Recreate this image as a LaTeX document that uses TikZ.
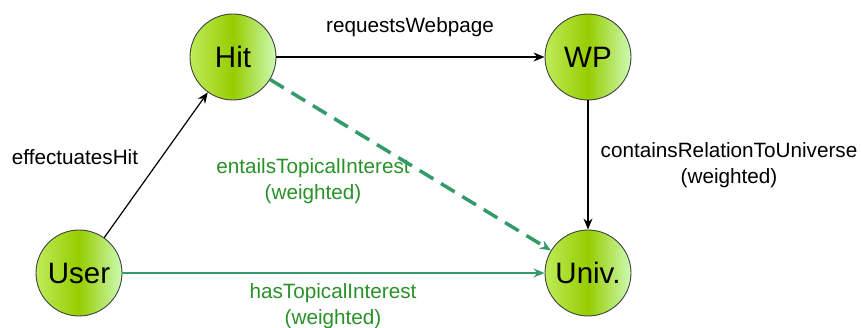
\documentclass[tikz,border=0pt]{standalone}
\usepackage{fontspec}
\setmainfont{Liberation Sans}
\usetikzlibrary{arrows.meta}

\definecolor{nodeleft}{RGB}{190,236,90}
\definecolor{nodemid}{RGB}{150,205,0}
\definecolor{noderight}{RGB}{205,250,180}
\definecolor{linkgreen}{RGB}{50,155,105}
\definecolor{textgreen}{RGB}{40,145,40}

\tikzstyle{entity}   = [circle, draw=black!75, line width=0.9pt, minimum size=86pt
                       , inner sep=0pt, left color=nodeleft, right color=noderight
                       , middle color=nodemid, font=\fontsize{29.5}{30}\selectfont]
\tikzstyle{relation} = [align=center, font=\fontsize{20.7}{26}\selectfont]
\tikzstyle{weighted} = [relation, text=textgreen]
\tikzstyle{link}     = [line width=1.2pt, -{Stealth[length=11pt,width=9pt]}]
\tikzstyle{greenlink} = [link, draw=linkgreen, line width=2.4pt]

\begin{document}
\begin{tikzpicture}[x=1pt, y=-1pt]
\useasboundingbox (0,0) rectangle (862,328);

%% Entities
\node [entity] (Hit)  at (233,57)  {Hit};
\node [entity] (WP)   at (588,57)  {WP};
\node [entity] (User) at (79,273)  {User};
\node [entity] (Univ) at (588,273) {Univ.};

%% Relation labels
\node [relation] (Lbl-Requests) at (410,27)  {requestsWebpage};
\node [relation] (Lbl-Effect)   at (75,157)  {effectuatesHit};
\node [relation] (Lbl-Contains) at (729,165) {containsRelationToUniverse\\(weighted)};
\node [weighted] (Lbl-Entails)  at (313,181) {entailsTopicalInterest\\(weighted)};
\node [weighted] (Lbl-Has)      at (333,306) {hasTopicalInterest\\(weighted)};

%% Connectors
\draw [link] (User) -- (Hit);
\draw [link] (Hit) -- (WP);
\draw [link] (WP) -- (Univ);
\draw [greenlink] (User) -- (Univ);
\draw [greenlink, line width=3.5pt, dash pattern=on 16pt off 9pt] (Hit) -- (Univ);

\end{tikzpicture}
\end{document}
